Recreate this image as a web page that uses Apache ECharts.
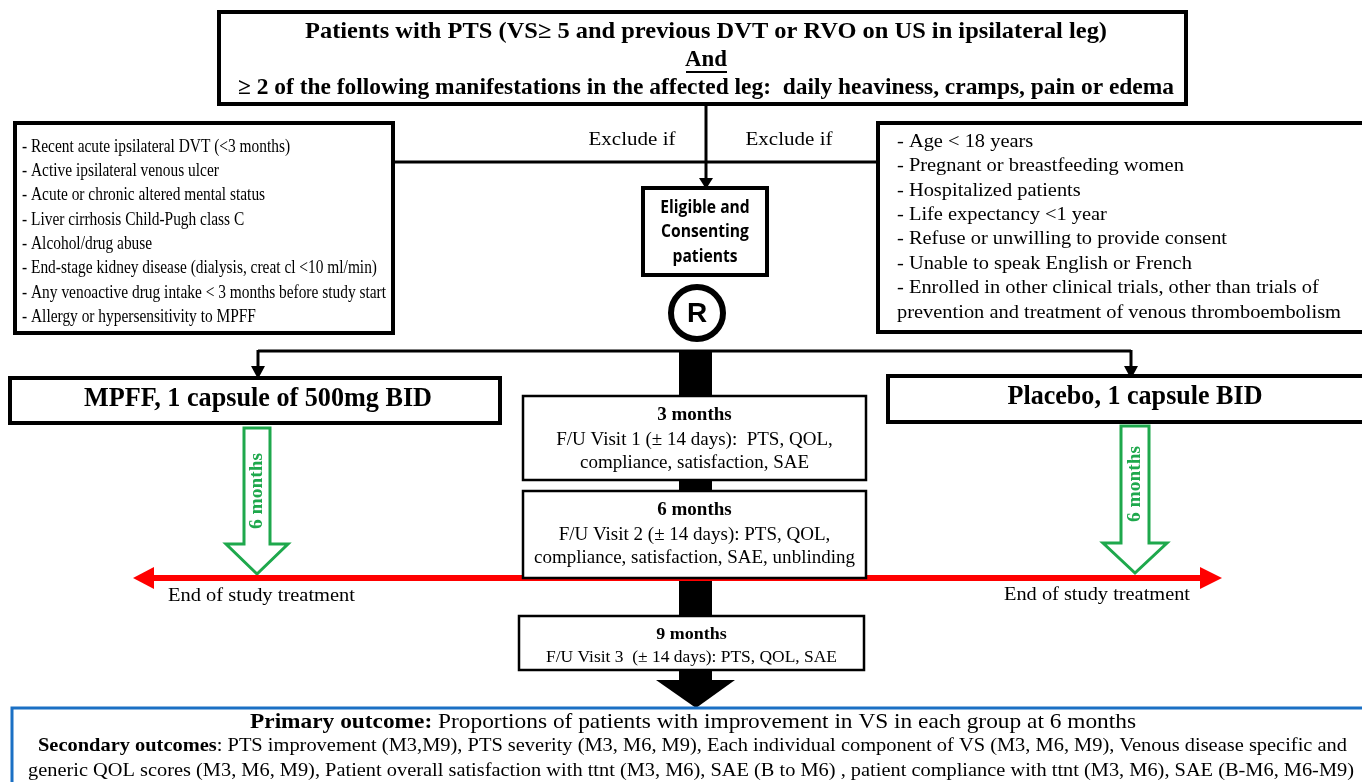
<!DOCTYPE html>
<html>
<head>
<meta charset="utf-8">
<script src="https://cdn.jsdelivr.net/npm/echarts@6/dist/echarts.min.js"></script>
<style>
  html, body { margin: 0; padding: 0; background: #fff; }
  #main { width: 1362px; height: 782px; }
</style>
</head>
<body>
<div id="main"></div>
<script>
// texts of the flow chart
var topLines = [
  'Patients with PTS (VS\u2265 5 and previous DVT or RVO on US in ipsilateral leg)',
  'And',
  '\u2265 2 of the following manifestations in the affected leg:  daily heaviness, cramps, pain or edema'
];
var leftExclusions = [
  '- Recent acute ipsilateral DVT (<3 months)',
  '- Active ipsilateral venous ulcer',
  '- Acute or chronic altered mental status',
  '- Liver cirrhosis Child-Pugh class C',
  '- Alcohol/drug abuse',
  '- End-stage kidney disease (dialysis, creat cl <10 ml/min)',
  '- Any venoactive drug intake < 3 months before study start',
  '- Allergy or hypersensitivity to MPFF'
];
var rightExclusions = [
  '- Age < 18 years',
  '- Pregnant or breastfeeding women',
  '- Hospitalized patients',
  '- Life expectancy <1 year',
  '- Refuse or unwilling to provide consent',
  '- Unable to speak English or French',
  '- Enrolled in other clinical trials, other than trials of',
  'prevention and treatment of venous thromboembolism'
];
var excludeLabel = 'Exclude if';
var eligibleLines = ['Eligible and', 'Consenting', 'patients'];
var randomLabel = 'R';
var armLabels = ['MPFF, 1 capsule of 500mg BID', 'Placebo, 1 capsule BID'];
var durationLabel = '6 months';
var endLabel = 'End of study treatment';
var visitTitles = ['3 months', '6 months', '9 months'];
var visitDetails = [
  ['F/U Visit 1 (\u00b1 14 days):  PTS, QOL,', 'compliance, satisfaction, SAE'],
  ['F/U Visit 2 (\u00b1 14 days): PTS, QOL,', 'compliance, satisfaction, SAE, unblinding'],
  ['F/U Visit 3  (\u00b1 14 days): PTS, QOL, SAE']
];
var primaryOutcome = ['Primary outcome:', ' Proportions of patients with improvement in VS in each group at 6 months'];
var secondaryOutcome = [
  ['Secondary outcomes', ': PTS improvement (M3,M9), PTS severity (M3, M6, M9), Each individual component of VS (M3, M6, M9), Venous disease specific and'],
  ['', 'generic QOL scores (M3, M6, M9), Patient overall satisfaction with ttnt (M3, M6), SAE (B to M6) , patient compliance with ttnt (M3, M6), SAE (B-M6, M6-M9)']
];

var SERIF = '"Liberation Serif", "DejaVu Serif", serif';
var SANS = '"Open Sans", "Liberation Sans", sans-serif';
var GREEN = '#1ea84c';
var RED = '#ff0000';
var BLUE = '#1b70c4';

var ctx = document.createElement('canvas').getContext('2d');
function measure(s, font) { ctx.font = font; return ctx.measureText(s).width; }
function fontOf(size, weight, fam) { return (weight || 'normal') + ' ' + size + 'px ' + (fam || SERIF); }

// text helper, o.fit = target width in px (squeezes text like the original)
function txt(x, y, s, o) {
  o = o || {};
  var font = fontOf(o.size || 17, o.weight, o.family);
  var sx = o.sx || 1;
  if (o.fit) sx = o.fit / measure(s, font);
  return {
    type: 'text', x: x, y: y, scaleX: sx, rotation: o.rot || 0, z: o.z || 20,
    style: {
      text: s, font: font, fill: o.color || '#000',
      textAlign: o.align || 'left', align: o.align || 'left',
      textVerticalAlign: 'middle', verticalAlign: 'middle'
    }
  };
}
function box(x, y, w, h, o) {
  o = o || {};
  return {
    type: 'rect', z: o.z || 10,
    shape: { x: x, y: y, width: w, height: h },
    style: { fill: o.fill || '#fff', stroke: o.stroke || '#000', lineWidth: o.lw || 4 }
  };
}
function line(x1, y1, x2, y2, o) {
  o = o || {};
  return {
    type: 'line', z: o.z || 5,
    shape: { x1: x1, y1: y1, x2: x2, y2: y2 },
    style: { stroke: o.stroke || '#000', lineWidth: o.lw || 3 }
  };
}
function poly(pts, o) {
  o = o || {};
  return {
    type: 'polygon', z: o.z || 6,
    shape: { points: pts },
    style: { fill: o.fill || '#000', stroke: o.stroke || null, lineWidth: o.lw || 0 }
  };
}
// scale factor for a block: widest line squeezed to target width
function blockScale(lines, font, target) {
  var w = 0;
  lines.forEach(function (l) { w = Math.max(w, measure(l, font)); });
  return target / w;
}

var els = [];

// top box
els.push(box(219, 12, 967, 92));
els.push(txt(706, 32, topLines[0], { size: 23, weight: 'bold', align: 'center', fit: 802 }));
els.push(txt(706, 60, topLines[1], { size: 23, weight: 'bold', align: 'center', fit: 42 }));
els.push(line(686, 72, 727, 72, { lw: 2, z: 21 }));
els.push(txt(706, 88, topLines[2], { size: 23, weight: 'bold', align: 'center', fit: 936 }));

// connectors from top box
els.push(line(706, 104, 706, 180));
els.push(poly([[699, 178], [713, 178], [706, 189]]));
els.push(line(393, 162, 878, 162));
els.push(txt(632, 140, excludeLabel, { size: 18, align: 'center', fit: 87 }));
els.push(txt(789, 140, excludeLabel, { size: 18, align: 'center', fit: 87 }));

// exclusion boxes
els.push(box(15, 123, 378, 210));
var lf = fontOf(18);
var ls = blockScale(leftExclusions, lf, 364);
leftExclusions.forEach(function (s, i) {
  els.push(txt(22, 147 + i * 24.3, s, { size: 18, sx: ls }));
});
els.push(box(878, 123, 500, 209));
var rs = blockScale(rightExclusions, lf, 444);
rightExclusions.forEach(function (s, i) {
  els.push(txt(897, 142 + i * 24.4, s, { size: 18, sx: rs }));
});

// eligible box and randomisation
els.push(box(643, 188, 124, 87));
eligibleLines.forEach(function (s, i) {
  els.push(txt(705, 208 + i * 24.5, s, { size: 17, weight: 'bold', family: SANS, align: 'center', sx: 0.92 }));
});
els.push({
  type: 'circle', z: 12, shape: { cx: 697, cy: 313, r: 26 },
  style: { fill: '#fff', stroke: '#000', lineWidth: 6 }
});
els.push(txt(697, 314, randomLabel, { size: 28, weight: 'bold', family: '"Liberation Sans", sans-serif', align: 'center' }));

// branching line to both arms
els.push(line(258, 351, 1131, 351));
els.push(line(258, 350, 258, 370));
els.push(line(1131, 350, 1131, 370));
els.push(poly([[251, 366], [265, 366], [258, 379]]));
els.push(poly([[1124, 366], [1138, 366], [1131, 379]]));

// central timeline bar + final arrowhead
els.push({ type: 'rect', z: 4, shape: { x: 679, y: 350, width: 33, height: 331 }, style: { fill: '#000' } });
els.push(poly([[656, 680], [735, 680], [696, 708]], { z: 4 }));

// arms
els.push(box(10, 378, 490, 45));
els.push(txt(258, 399, armLabels[0], { size: 27, weight: 'bold', align: 'center', fit: 348 }));
els.push(box(888, 376, 490, 46));
els.push(txt(1135, 397, armLabels[1], { size: 27, weight: 'bold', align: 'center', fit: 255 }));

// green hollow arrows (6 months)
function hollowArrow(cx, top, shaftHalf, headHalf, shaftEnd, tip) {
  return {
    type: 'polygon', z: 8,
    shape: { points: [
      [cx - shaftHalf, top], [cx + shaftHalf, top], [cx + shaftHalf, shaftEnd],
      [cx + headHalf, shaftEnd], [cx, tip], [cx - headHalf, shaftEnd], [cx - shaftHalf, shaftEnd]
    ] },
    style: { fill: '#fff', stroke: GREEN, lineWidth: 3 }
  };
}
els.push(hollowArrow(257, 428, 13, 31, 544, 574));
els.push(hollowArrow(1135, 426, 14, 32, 543, 573));
els.push(txt(257, 491, durationLabel, { size: 18, weight: 'bold', color: GREEN, align: 'center', rot: Math.PI / 2, fit: 76 }));
els.push(txt(1135, 484, durationLabel, { size: 18, weight: 'bold', color: GREEN, align: 'center', rot: Math.PI / 2, fit: 76 }));

// red line: end of study treatment
els.push(line(150, 578, 1205, 578, { stroke: RED, lw: 6, z: 9 }));
els.push(poly([[133, 578], [154, 567], [154, 589]], { fill: RED, z: 9 }));
els.push(poly([[1222, 578], [1200, 567], [1200, 589]], { fill: RED, z: 9 }));
els.push(txt(168, 596, endLabel, { size: 18, fit: 187 }));
els.push(txt(1004, 595, endLabel, { size: 18, fit: 186 }));

// follow-up visit boxes
var visitBoxes = [[523, 396, 343, 84], [523, 491, 343, 87], [519, 616, 345, 54]];
var vf = fontOf(18);
var vs = blockScale(visitDetails[1], vf, 321);
visitBoxes.forEach(function (b, i) {
  els.push(box(b[0], b[1], b[2], b[3], { lw: 2.5, z: 14 }));
  var cx = b[0] + b[2] / 2;
  var small = i === 2;
  els.push(txt(cx, b[1] + 19, visitTitles[i], { size: small ? 17 : 18, weight: 'bold', align: 'center', sx: vs }));
  visitDetails[i].forEach(function (s, j) {
    els.push(txt(cx, b[1] + (small ? 42 : 44 + j * 23), s, small ? { size: 16, align: 'center', fit: 291 } : { size: 18, align: 'center', sx: vs }));
  });
});

// outcomes box
els.push(box(12, 708, 1400, 90, { stroke: BLUE, lw: 3, z: 15 }));
function richLine(x, y, parts, size, target, align) {
  var bf = fontOf(size, 'bold'), nf = fontOf(size);
  var w = measure(parts[0], bf) + measure(parts[1], nf);
  return {
    type: 'text', x: x, y: y, scaleX: target / w, z: 20,
    style: {
      text: (parts[0] ? '{b|' + parts[0] + '}' : '') + '{n|' + parts[1] + '}',
      textAlign: align, align: align, textVerticalAlign: 'middle', verticalAlign: 'middle',
      rich: {
        b: { font: bf, fill: '#000' },
        n: { font: nf, fill: '#000' }
      }
    }
  };
}
els.push(richLine(693, 722, primaryOutcome, 22, 886, 'center'));
els.push(richLine(38, 746, secondaryOutcome[0], 19, 1309, 'left'));
els.push(richLine(28, 771, secondaryOutcome[1], 19, 1326, 'left'));

var chart = echarts.init(document.getElementById('main'), null, { renderer: 'canvas' });
chart.setOption({
  backgroundColor: '#fff',
  animation: false,
  graphic: { elements: els }
});
</script>
</body>
</html>
